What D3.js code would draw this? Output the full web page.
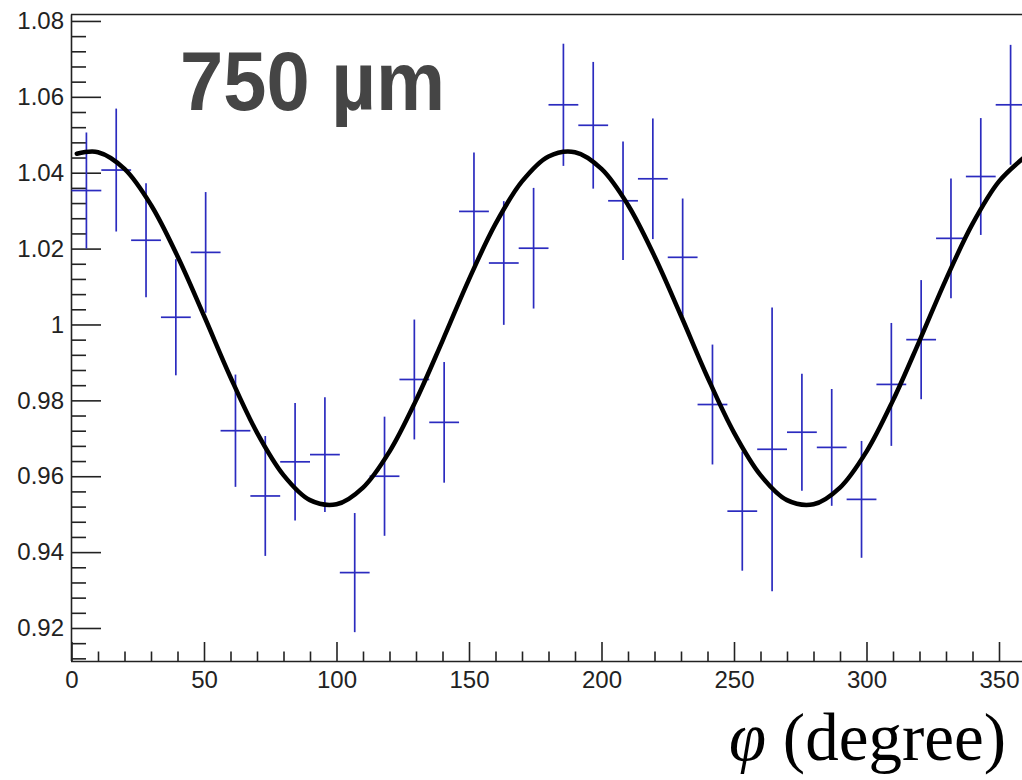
<!DOCTYPE html>
<html>
<head>
<meta charset="utf-8">
<script src="https://cdn.jsdelivr.net/npm/d3@7"></script>
<style>
  body { margin: 0; background: #fff; }
  svg { display: block; }
</style>
</head>
<body>
<svg id="chart" width="1022" height="780"></svg>
<script>
(function() {
  /* Measured points (bin centres, ratio, error) */
  var phi = [5.625, 16.875, 28.125, 39.375, 50.625, 61.875, 73.125, 84.375,
             95.625, 106.875, 118.125, 129.375, 140.625, 151.875, 163.125, 174.375,
             185.625, 196.875, 208.125, 219.375, 230.625, 241.875, 253.125, 264.375,
             275.625, 286.875, 298.125, 309.375, 320.625, 331.875, 343.125, 354.375];
  var ratio = [1.0353, 1.0407, 1.0222, 1.0019, 1.0190, 0.9720, 0.9548, 0.9638,
               0.9657, 0.9346, 0.9600, 0.9855, 0.9742, 1.0298, 1.0162, 1.0201,
               1.0579, 1.0525, 1.0326, 1.0384, 1.0177, 0.9789, 0.9508, 0.9671,
               0.9716, 0.9676, 0.9539, 0.9842, 0.9960, 1.0227, 1.0390, 1.0579];
  var err = [0.0153, 0.0162, 0.0150, 0.0153, 0.0159, 0.0148, 0.0158, 0.0155,
             0.0151, 0.0157, 0.0157, 0.0158, 0.0159, 0.0155, 0.0163, 0.0159,
             0.0161, 0.0167, 0.0156, 0.0159, 0.0155, 0.0158, 0.0157, 0.0374,
             0.0154, 0.0154, 0.0154, 0.0162, 0.0157, 0.0158, 0.0154, 0.0158];
  var binHalf = 5.625;

  /* Fit curve */
  var fitPhi = [2, 10, 20, 30, 40, 50, 60, 70, 80, 90, 100, 110, 120, 130, 140, 150,
                160, 170, 180, 190, 200, 210, 220, 230, 240, 250, 260, 270, 280,
                290, 300, 310, 320, 330, 340, 350, 360];
  var fitVal = [1.0450, 1.0454, 1.0410, 1.0315, 1.0180, 1.0023, 0.9861, 0.9715,
                0.9603, 0.9537, 0.9526, 0.9570, 0.9665, 0.9800, 0.9957, 1.0119,
                1.0265, 1.0377, 1.0443, 1.0454, 1.0410, 1.0315, 1.0180, 1.0023,
                0.9861, 0.9715, 0.9603, 0.9537, 0.9526, 0.9570, 0.9665, 0.9800,
                0.9957, 1.0119, 1.0265, 1.0377, 1.0443];

  var xMajor = [0, 50, 100, 150, 200, 250, 300, 350];
  var yMajor = [0.92, 0.94, 0.96, 0.98, 1.00, 1.02, 1.04, 1.06, 1.08];
  var yLabels = ['0.92', '0.94', '0.96', '0.98', '1', '1.02', '1.04', '1.06', '1.08'];
  var titleText = '750 \u00b5m';

  var left = 71, top = 14.5, bottom = 661;

  var svg = d3.select('#chart');

  var x = d3.scaleLinear().domain([0, 360]).range([71.5, 1025.5]);
  var y = d3.scaleLinear().domain([0.9113, 1.0817]).range([bottom, top]);

  var xMinor = d3.range(0, 361, 10).filter(function(d) { return d % 50 !== 0; });
  var yMinor = d3.range(912, 1081, 4).map(function(d) { return d / 1000; })
    .filter(function(d) { return Math.round(d * 1000) % 20 !== 0; });

  // frame (top line; right side is off the page)
  svg.append('line')
    .attr('x1', left).attr('x2', 1022)
    .attr('y1', top).attr('y2', top)
    .attr('stroke', '#222').attr('stroke-width', 1.6);

  // minor ticks
  svg.append('g')
    .attr('transform', 'translate(' + left + ',0)')
    .call(d3.axisLeft(y).tickValues(yMinor).tickSizeInner(-15).tickSizeOuter(0).tickFormat(''))
    .call(function(g) { g.select('.domain').remove(); });
  svg.append('g')
    .attr('transform', 'translate(0,' + bottom + ')')
    .call(d3.axisBottom(x).tickValues(xMinor).tickSizeInner(-9.5).tickSizeOuter(0).tickFormat(''))
    .call(function(g) { g.select('.domain').remove(); });

  // major ticks + labels
  var yAxis = svg.append('g')
    .attr('transform', 'translate(' + left + ',0)')
    .call(d3.axisLeft(y).tickValues(yMajor).tickSizeInner(-30).tickSizeOuter(0).tickPadding(7)
      .tickFormat(function(d, i) { return yLabels[i]; }));
  var xAxis = svg.append('g')
    .attr('transform', 'translate(0,' + bottom + ')')
    .call(d3.axisBottom(x).tickValues(xMajor).tickSizeInner(-19).tickSizeOuter(0).tickPadding(10)
      .tickFormat(d3.format('d')));

  svg.selectAll('.tick line').attr('stroke', '#222').attr('stroke-width', 1.6);
  svg.selectAll('.domain').attr('stroke', '#222').attr('stroke-width', 1.6);
  xAxis.select('.domain').attr('d', 'M' + left + ',0.5H1022');
  yAxis.select('.domain').attr('d', 'M0.5,' + top + 'V' + bottom);
  svg.selectAll('.tick text')
    .attr('fill', '#222')
    .style('font-family', '"Liberation Sans", Arial, Helvetica, sans-serif')
    .style('font-size', '24px');

  // error bars
  var pts = svg.append('g')
    .attr('stroke', '#2b2bbf')
    .attr('stroke-width', 1.7);

  pts.selectAll('line.v')
    .data(phi)
    .enter()
    .append('line')
      .attr('class', 'v')
      .attr('x1', function(d) { return x(d); })
      .attr('x2', function(d) { return x(d); })
      .attr('y1', function(d, i) { return y(ratio[i] + err[i]); })
      .attr('y2', function(d, i) { return y(ratio[i] - err[i]); });

  pts.selectAll('line.h')
    .data(phi)
    .enter()
    .append('line')
      .attr('class', 'h')
      .attr('x1', function(d) { return x(d - binHalf); })
      .attr('x2', function(d) { return x(d + binHalf); })
      .attr('y1', function(d, i) { return y(ratio[i]); })
      .attr('y2', function(d, i) { return y(ratio[i]); });

  // fit curve
  var line = d3.line()
    .x(function(d) { return x(d); })
    .y(function(d, i) { return y(fitVal[i]); })
    .curve(d3.curveCatmullRom.alpha(0.5));

  svg.append('path')
    .datum(fitPhi)
    .attr('d', line)
    .attr('fill', 'none')
    .attr('stroke', '#000')
    .attr('stroke-width', 4.5)
    .attr('stroke-linejoin', 'round')
    .attr('stroke-linecap', 'round');

  // big label
  svg.append('text')
    .attr('x', 180)
    .attr('y', 110)
    .attr('textLength', 265)
    .attr('lengthAdjust', 'spacingAndGlyphs')
    .attr('fill', '#454545')
    .style('font-family', '"Liberation Sans", Arial, Helvetica, sans-serif')
    .style('font-weight', 'bold')
    .style('font-size', '84px')
    .text(titleText);

  // axis title
  var xt = svg.append('text')
    .attr('x', 729)
    .attr('y', 760)
    .attr('fill', '#000')
    .style('font-family', '"Liberation Serif", "Times New Roman", serif')
    .style('font-size', '67px');
  xt.append('tspan').style('font-style', 'italic').text('\u03c6');
  xt.append('tspan').text(' (degree)');
})();
</script>
</body>
</html>
